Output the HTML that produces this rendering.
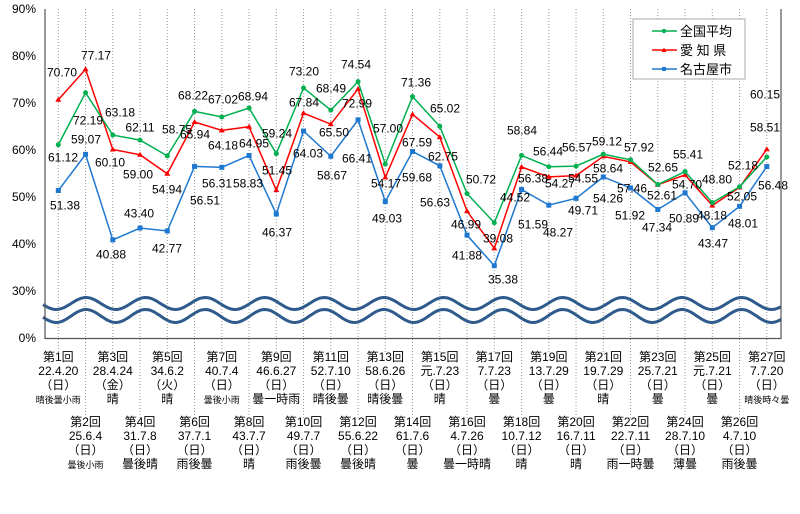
<!DOCTYPE html>
<html><head><meta charset="utf-8"><style>
html,body{margin:0;padding:0;background:#fff;}
svg{display:block;font-family:"Liberation Sans","Noto Sans CJK JP",sans-serif;}
</style></head><body>
<svg id="s" width="800" height="514" viewBox="0 0 800 514" xmlns="http://www.w3.org/2000/svg">
<rect width="800" height="514" fill="#fff"/>
<g id="grid" stroke="#999" stroke-width="1" stroke-dasharray="1,2"></g>
<g font-size="12" text-anchor="end" fill="#000">
<text x="36" y="13">90%</text><text x="36" y="60">80%</text><text x="36" y="107">70%</text>
<text x="36" y="154">60%</text><text x="36" y="201">50%</text><text x="36" y="248">40%</text>
<text x="36" y="295">30%</text><text x="36" y="342">0%</text>
</g>
<g id="waves"></g>
<path d="M45,9 V338.5 H781 V9" fill="none" stroke="#555" stroke-width="1.2"/>
<g id="series"></g>
<g id="labels" font-size="12" text-anchor="middle" fill="#000"></g>
<g id="cats" text-anchor="middle" fill="#000"></g>
<rect x="633" y="19" width="112" height="60" fill="#fff" stroke="#aaa"/>
<line x1="652" y1="31" x2="677" y2="31" stroke="#00b050" stroke-width="1.5"/><circle cx="664" cy="31" r="2.2" fill="#00b050"/>
<line x1="652" y1="50" x2="677" y2="50" stroke="#ff0000" stroke-width="1.5"/><path d="M664,47.5 L666.5,52 L661.5,52Z" fill="#f00"/>
<line x1="652" y1="69" x2="677" y2="69" stroke="#1f78d0" stroke-width="1.5"/><rect x="662" y="67" width="4" height="4" fill="#1f78d0"/>
<g font-size="13" fill="#000"><text x="680" y="36">全国平均</text><text x="680" y="55">愛 知 県</text><text x="680" y="74">名古屋市</text></g>
</svg>
<script>
const NS="http://www.w3.org/2000/svg";
function el(t,a,p,txt){const e=document.createElementNS(NS,t);for(const k in a)e.setAttribute(k,a[k]);if(txt!==undefined)e.textContent=txt;document.getElementById(p).appendChild(e);return e;}
const X=i=>58.3+27.25*i, Y=v=>150-(v-60)*4.7;
for(let i=0;i<27;i++){const x=X(i);el('line',{x1:x,y1:9,x2:x,y2:338},'grid');el('line',{x1:x,y1:339,x2:x,y2:i%2==0?352:418},'grid');}
// waves
function wave(c,a){let d='';for(let x=43;x<=782;x+=2){const y=c-a*Math.cos(2*Math.PI*(x-86)/59.6);d+=(x==43?'M':'L')+x+','+y.toFixed(1);}return d;}
el('path',{d:wave(303.5,6),fill:'none',stroke:'#2e5a8c','stroke-width':3},'waves');
el('path',{d:wave(316,6.5),fill:'none',stroke:'#2e5a8c','stroke-width':3},'waves');
const G=[61.12,72.19,63.18,62.11,58.75,68.22,67.02,68.94,59.24,73.20,68.49,74.54,57.00,71.36,65.02,50.72,44.52,58.84,56.44,56.57,59.12,57.92,52.65,55.41,48.80,52.18,58.51];
const R=[70.70,77.17,60.10,59.00,54.94,65.94,64.18,64.95,51.45,67.84,65.50,72.99,54.17,67.59,62.75,46.99,39.08,56.38,54.27,54.55,58.64,57.46,52.61,54.70,48.18,52.05,60.15];
const B=[51.38,59.07,40.88,43.40,42.77,56.51,56.31,58.83,46.37,64.03,58.67,66.41,49.03,59.68,56.63,41.88,35.38,51.59,48.27,49.71,54.26,51.92,47.34,50.89,43.47,48.01,56.48];
function line(arr,col,mk){el('polyline',{points:arr.map((v,i)=>X(i)+','+Y(v)).join(' '),fill:'none',stroke:col,'stroke-width':1.5},'series');
arr.forEach((v,i)=>{const x=X(i),y=Y(v);if(mk=='c')el('circle',{cx:x,cy:y,r:2.5,fill:col},'series');else if(mk=='t')el('path',{d:`M${x},${y-3} L${x+3},${y+2} L${x-3},${y+2}Z`,fill:col},'series');else el('rect',{x:x-2.5,y:y-2.5,width:5,height:5,fill:col},'series');});}
line(B,'#1f78d0','s');line(R,'#ff0000','t');line(G,'#00b050','c');
const GL=[[63,157],[88,120],[120,112],[140,127],[177,129],[193,95],[223,99],[253,96],[277,133],[304,71],[331,88],[356,64],[388,128],[416,82],[445,108],[481,179],[515,197],[522,130],[548,151],[577,147],[607,141],[639,147],[663,167],[688,154],[717,179],[743,165],[765,127]];
const RL=[[62,72],[96,55],[110,162],[138,174],[167,189],[195,134],[223,145],[254,143],[277,170],[304,102],[334,132],[357,103],[386,183],[417,142],[443,156],[466,224],[498,238],[533,178],[560,183],[583,178],[608,168],[632,188],[662,195],[687,184],[712,215],[742,196],[765,94]];
const BL=[[65,205],[86,139],[111,254],[139,213],[167,248],[205,200],[217,183],[248,183],[277,232],[308,153],[332,175],[357,158],[387,218],[417,177],[435,202],[467,255],[503,279],[533,224],[558,232],[583,210],[608,198],[630,215],[657,227],[684,218],[713,243],[743,223],[773,185]];
[[G,GL],[R,RL],[B,BL]].forEach(([a,l])=>a.forEach((v,i)=>el('text',{x:l[i][0],y:l[i][1]+4.5},'labels',v.toFixed(2))));
const C=[["22.4.20","（日）","晴後曇小雨",1],["25.6.4","（日）","曇後小雨",1],["28.4.24","（金）","晴"],["31.7.8","（日）","曇後晴"],["34.6.2","（火）","晴"],["37.7.1","（日）","雨後曇"],["40.7.4","（日）","曇後小雨",1],["43.7.7","（日）","晴"],["46.6.27","（日）","曇一時雨"],["49.7.7","（日）","雨後曇"],["52.7.10","（日）","晴後曇"],["55.6.22","（日）","曇後晴"],["58.6.26","（日）","晴後曇"],["61.7.6","（日）","曇"],["元.7.23","（日）","晴"],["4.7.26","（日）","曇一時晴"],["7.7.23","（日）","曇"],["10.7.12","（日）","晴"],["13.7.29","（日）","曇"],["16.7.11","（日）","晴"],["19.7.29","（日）","晴"],["22.7.11","（日）","雨一時曇"],["25.7.21","（日）","曇"],["28.7.10","（日）","薄曇"],["元.7.21","（日）","曇"],["4.7.10","（日）","雨後曇"],["7.7.20","（日）","晴後時々曇",1]];
C.forEach((c,i)=>{const x=X(i),b=i%2==0?361:426;
el('text',{x,y:b,'font-size':12},'cats','第'+(i+1)+'回');
el('text',{x,y:b+14,'font-size':12},'cats',c[0]);
el('text',{x,y:b+28,'font-size':12},'cats',c[1]);
el('text',{x,y:b+42,'font-size':c[3]?9:12},'cats',c[2]);});
</script>
</body></html>
